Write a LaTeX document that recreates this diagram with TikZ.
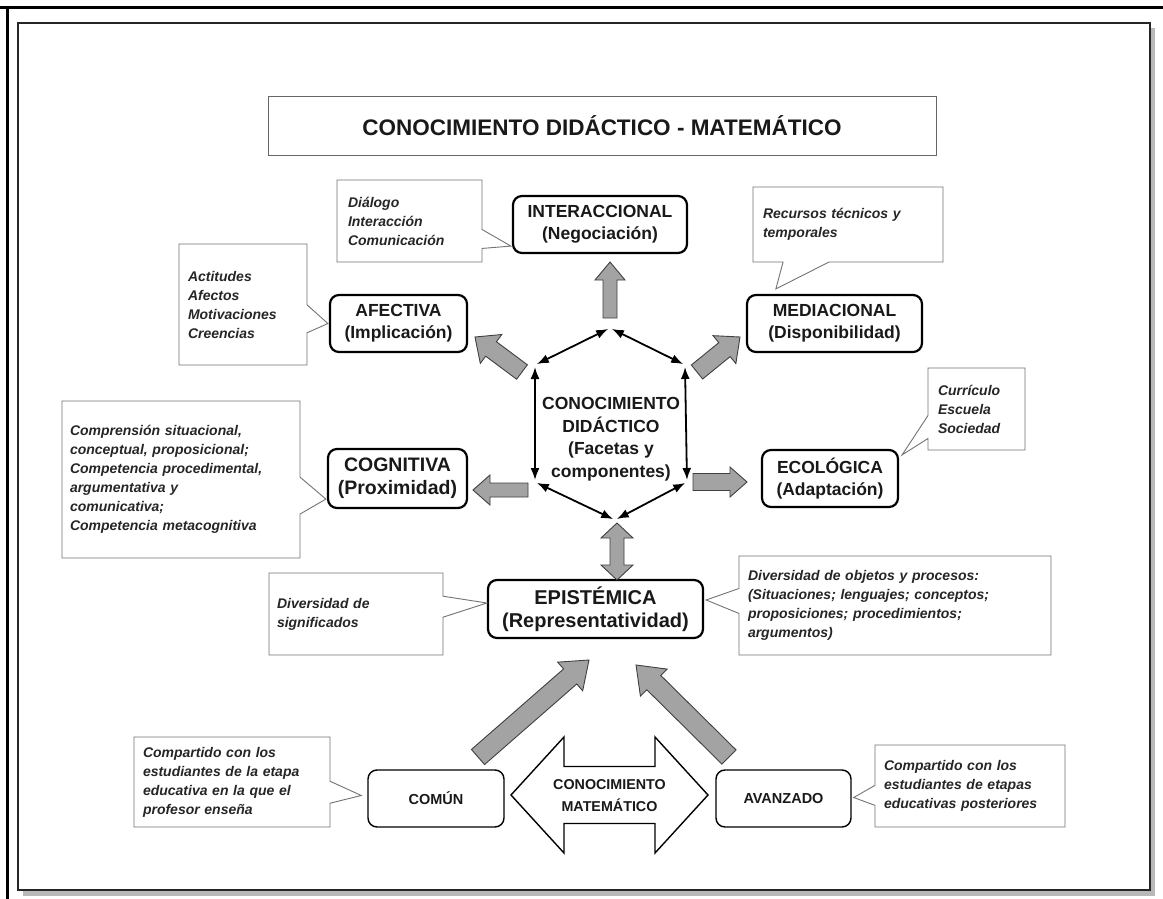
\documentclass[tikz,border=0pt]{standalone}
\usepackage{fontspec}
\setmainfont{Liberation Sans}
\usetikzlibrary{calc,shapes.callouts,arrows.meta}

\tikzset{
  mainbox/.style={draw=black, line width=2.2pt, rounded corners=9pt, fill=white,
    align=center, inner sep=0pt, font=\bfseries\fontsize{17.5}{22}\selectfont, text=black!90},
  smallbox/.style={draw=black, line width=1.4pt, rounded corners=9pt, fill=white,
    inner sep=0pt, font=\bfseries\fontsize{14.5}{17}\selectfont, text=black!90},
  note/.style={rectangle callout, draw=black!55, line width=0.9pt, fill=white,
    align=left, inner xsep=0pt, inner ysep=0pt,
    font=\bfseries\itshape\fontsize{14}{19}\selectfont, text=black!85},
  barrow/.style={draw=black!75, line width=0.9pt, fill=gray!72},
  warrow/.style={draw=black, line width=1.4pt, fill=white},
  hexarr/.style={line width=1.8pt,
    {Latex[length=12pt,width=9pt]}-{Latex[length=12pt,width=9pt]},
    shorten <=2pt, shorten >=2pt},
}

% single block arrow: [style] tail, tip, half shaft, half head, head length
\newcommand{\blockarr}[6][barrow]{%
  \coordinate (baH) at ($(#3)!#6!(#2)$);
  \draw[#1] ($(#2)!#4!90:(#3)$) -- ($(baH)!#4!-90:(#2)$) -- ($(baH)!#5!-90:(#2)$)
    -- (#3) -- ($(baH)!#5!90:(#2)$) -- ($(baH)!#4!90:(#2)$)
    -- ($(#2)!#4!-90:(#3)$) -- cycle;}
% double block arrow: [style] end A, end B, half shaft, half head, head length
\newcommand{\dblockarr}[6][barrow]{%
  \coordinate (dbA) at ($(#2)!#6!(#3)$);
  \coordinate (dbB) at ($(#3)!#6!(#2)$);
  \draw[#1] (#2) -- ($(dbA)!#5!90:(#3)$) -- ($(dbA)!#4!90:(#3)$)
    -- ($(dbB)!#4!-90:(#2)$) -- ($(dbB)!#5!-90:(#2)$) -- (#3)
    -- ($(dbB)!#5!90:(#2)$) -- ($(dbB)!#4!90:(#2)$)
    -- ($(dbA)!#4!-90:(#3)$) -- ($(dbA)!#5!-90:(#3)$) -- cycle;}

\begin{document}
\begin{tikzpicture}[x=1pt,y=-1pt]
\useasboundingbox (0,0) rectangle (1163,899);
\fill[white] (0,0) rectangle (1163,899);

% page frame
\fill[gray!55] (23,28) rectangle (1155,896);
\draw[line width=1.3pt, draw=black!85, fill=white] (18,23) rectangle (1150,890);
\draw[line width=3pt] (0,8) -- (1163,8);
\draw[line width=3pt] (7,8) -- (7,899);

% title
\node[draw=black!60, line width=1pt, minimum width=668pt, minimum height=58pt, inner sep=0pt,
  font=\bfseries\fontsize{22.5}{26}\selectfont, text=black!90] (title) at (602,126)
  {CONOCIMIENTO DIDÁCTICO - MATEMÁTICO};

% main boxes
\node[mainbox, minimum width=174pt, minimum height=57pt] (inter) at (600,224.5)
  {INTERACCIONAL\\(Negociación)};
\node[mainbox, minimum width=137pt, minimum height=57pt] (afe) at (398.5,323.5)
  {AFECTIVA\\(Implicación)};
\node[mainbox, minimum width=175pt, minimum height=57pt] (med) at (834.5,323.5)
  {MEDIACIONAL\\(Disponibilidad)};
\node[mainbox, minimum width=139pt, minimum height=59pt, font=\bfseries\fontsize{19.5}{23}\selectfont] (cog) at (397.5,478.5)
  {COGNITIVA\\(Proximidad)};
\node[mainbox, minimum width=136pt, minimum height=57pt] (eco) at (830,478.5)
  {ECOLÓGICA\\(Adaptación)};
\node[mainbox, minimum width=215pt, minimum height=58pt, font=\bfseries\fontsize{20}{23}\selectfont] (epi) at (595.5,609)
  {EPISTÉMICA\\(Representatividad)};
\node[smallbox, minimum width=136pt, minimum height=57pt] (comun) at (436,798.5) {COMÚN};
\node[smallbox, minimum width=135pt, minimum height=57pt] (avz) at (783.5,798.5) {AVANZADO};

% centre: hexagon of double arrows
\node[align=center, inner sep=0pt, font=\bfseries\fontsize{17.5}{22.5}\selectfont, text=black!90] (cdid) at (611,439)
  {CONOCIMIENTO\\DIDÁCTICO\\(Facetas y\\componentes)};
\coordinate (hT) at (610,328);
\coordinate (hUL) at (535,365);
\coordinate (hUR) at (685,365);
\coordinate (hLL) at (535,482);
\coordinate (hLR) at (687,482);
\coordinate (hB) at (615,520);
\draw[hexarr] (hT) -- (hUL);
\draw[hexarr] (hT) -- (hUR);
\draw[hexarr] (hUL) -- (hLL);
\draw[hexarr] (hUR) -- (hLR);
\draw[hexarr] (hLL) -- (hB);
\draw[hexarr] (hLR) -- (hB);

% grey block arrows
\coordinate (upT) at (610,318);   \coordinate (upH) at (610,262);
\coordinate (afT) at (522,372);   \coordinate (afH) at (475,337);
\coordinate (meT) at (697,372);   \coordinate (meH) at (740,337);
\coordinate (coT) at (528,490);   \coordinate (coH) at (473,490);
\coordinate (ecT) at (693,482);   \coordinate (ecH) at (747,482);
\coordinate (epA) at (617,523);   \coordinate (epB) at (617,580);
\coordinate (cmT) at (478,757);   \coordinate (cmH) at (589,660);
\coordinate (avT) at (729,757);   \coordinate (avH) at (636,665);
\blockarr{upT}{upH}{7pt}{15pt}{18pt}
\blockarr{afT}{afH}{9pt}{18pt}{20pt}
\blockarr{meT}{meH}{9pt}{18pt}{20pt}
\blockarr{coT}{coH}{7pt}{15pt}{17pt}
\blockarr{ecT}{ecH}{8.5pt}{15pt}{17pt}
\dblockarr{epA}{epB}{7pt}{16pt}{15pt}
\blockarr{cmT}{cmH}{10pt}{19pt}{25pt}
\blockarr{avT}{avH}{10pt}{19pt}{25pt}

% big white double arrow
\coordinate (mL) at (511,795); \coordinate (mR) at (708,795);
\dblockarr[warrow]{mL}{mR}{28.5pt}{58pt}{53pt}
\node[align=center, inner sep=0pt, font=\bfseries\fontsize{14.3}{22}\selectfont, text=black!90] (cmat) at (609.5,796)
  {CONOCIMIENTO\\MATEMÁTICO};

% callouts
\coordinate (pDlg) at ($(inter.south west)+(-1,-8)$);
\coordinate (pRec) at ($(med.north west)+(30,-5)$);
\coordinate (pAct) at ($(afe.west)+(-1,0)$);
\coordinate (pCog) at ($(cog.south west)+(-1,-10)$);
\coordinate (pCur) at ($(eco.north east)+(3,6)$);
\coordinate (pSig) at ($(epi.west)+(0,-6)$);
\coordinate (pObj) at ($(epi.east)+(2,-9)$);
\coordinate (pCl) at ($(comun.west)+(-6,-3)$);
\coordinate (pCr) at ($(avz.east)+(2,-1)$);

\node[note, text width=123pt, minimum width=145pt, minimum height=82pt,
  callout pointer width=19pt, callout absolute pointer={(pDlg)}] (dlg) at (409.5,221)
  {Diálogo\\Interacción\\Comunicación};
\node[note, text width=170pt, minimum width=190pt, minimum height=75pt,
  callout pointer width=46pt, callout absolute pointer={(pRec)}] (rec) at (848,224.5)
  {Recursos técnicos y\\temporales};
\node[note, text width=110pt, minimum width=128pt, minimum height=121pt,
  callout pointer width=28pt, callout absolute pointer={(pAct)}] (act) at (243,304.5)
  {Actitudes\\Afectos\\Motivaciones\\Creencias};
\node[note, text width=222pt, minimum width=238pt, minimum height=157pt,
  callout pointer width=37pt, callout absolute pointer={(pCog)}] (cogn) at (181,479.5)
  {Comprensión situacional,\\conceptual, proposicional;\\Competencia procedimental,\\argumentativa y\\comunicativa;\\Competencia metacognitiva};
\node[note, text width=77pt, minimum width=97pt, minimum height=82pt,
  callout pointer width=23pt, callout absolute pointer={(pCur)}] (cur) at (976.5,409)
  {Currículo\\Escuela\\Sociedad};
\node[note, text width=158pt, minimum width=174pt, minimum height=82pt,
  callout pointer width=21pt, callout absolute pointer={(pSig)}] (dsig) at (356,614)
  {Diversidad de\\significados};
\node[note, text width=294pt, minimum width=312pt, minimum height=99pt,
  callout pointer width=25pt, callout absolute pointer={(pObj)}] (dobj) at (895,605.5)
  {Diversidad de objetos y procesos:\\(Situaciones; lenguajes; conceptos;\\proposiciones; procedimientos;\\argumentos)};
\node[note, text width=178pt, minimum width=196pt, minimum height=90pt,
  callout pointer width=22pt, callout absolute pointer={(pCl)}] (cl) at (232,782)
  {Compartido con los\\estudiantes de la etapa\\educativa en la que el\\profesor enseña};
\node[note, text width=172pt, minimum width=190pt, minimum height=82pt,
  callout pointer width=20pt, callout absolute pointer={(pCr)}] (cr) at (970,786)
  {Compartido con los\\estudiantes de etapas\\educativas posteriores};
\end{tikzpicture}
\end{document}
